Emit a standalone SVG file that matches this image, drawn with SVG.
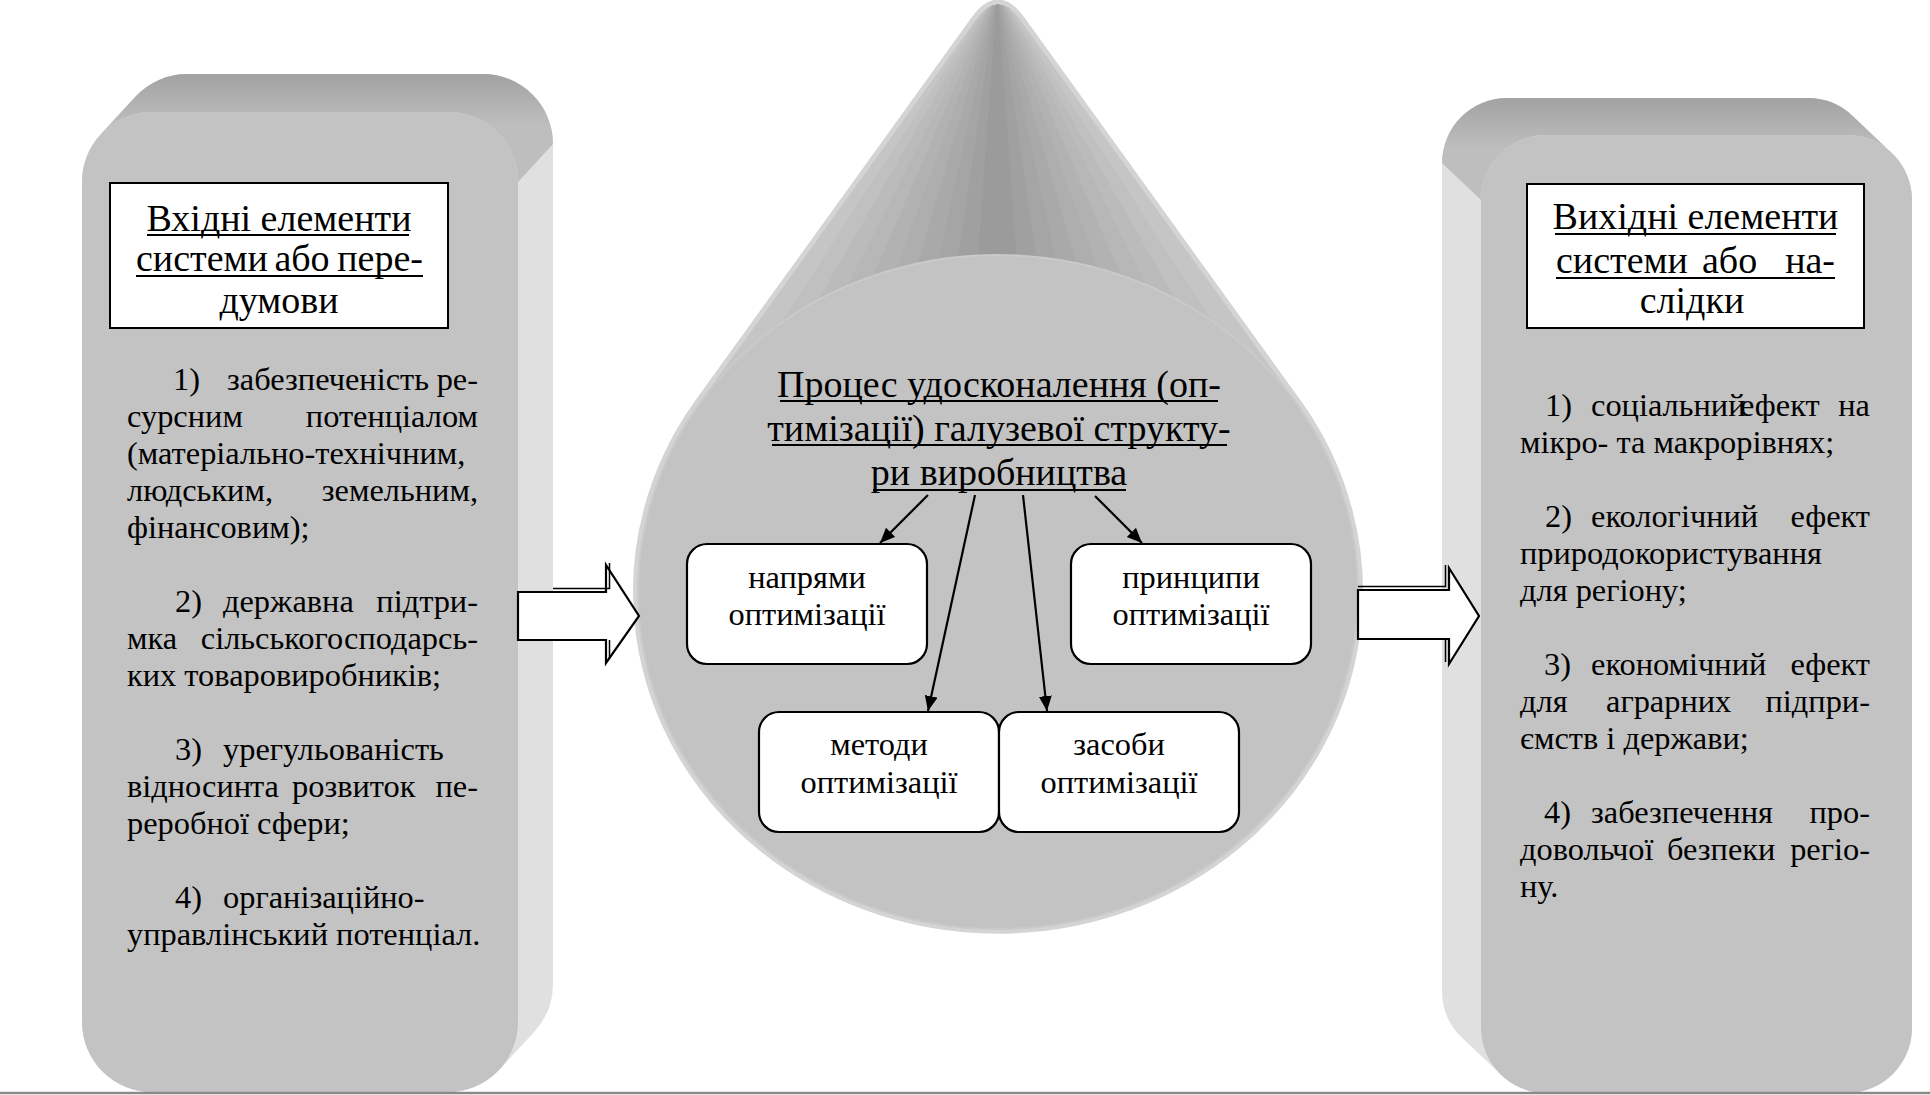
<svg xmlns="http://www.w3.org/2000/svg" width="1930" height="1095" viewBox="0 0 1930 1095">
<defs>
<linearGradient id="topL" gradientUnits="userSpaceOnUse" x1="0" y1="74" x2="0" y2="125">
<stop offset="0" stop-color="#a2a2a2"/><stop offset="1" stop-color="#bebebe"/>
</linearGradient>
<linearGradient id="topR" gradientUnits="userSpaceOnUse" x1="0" y1="98" x2="0" y2="148">
<stop offset="0" stop-color="#a2a2a2"/><stop offset="1" stop-color="#bebebe"/>
</linearGradient>
<clipPath id="tdClip"><path d="M 976 20 L 699 404 A 360 337 0 1 0 1297 404 L 1020 20 Q 998 -11 976 20 Z"/></clipPath>
<marker id="ah" markerUnits="userSpaceOnUse" markerWidth="16" markerHeight="14" refX="15" refY="6.5" orient="auto">
<path d="M0,0 L15,6.5 L0,13 Z" fill="#000"/>
</marker>
</defs>
<rect width="1930" height="1095" fill="#fff"/>

<g id="input-node">
<path fill="#e0e0e0" d="M 82 1022 L 82 182 A 70 70 0 0 1 100.5 134.6 L 135.5 96.6 A 70 70 0 0 1 187 74 L 483 74 A 70 70 0 0 1 553 144 L 553 984 A 70 70 0 0 1 534.5 1031.4 L 499.5 1069.4 A 70 70 0 0 1 448 1092 L 152 1092 A 70 70 0 0 1 82 1022 Z"/>
<path fill="url(#topL)" d="M 100.5 134.6 L 135.5 96.6 A 70 70 0 0 1 187 74 L 483 74 A 70 70 0 0 1 553 144 L 518 182 A 70 70 0 0 0 448 112 L 152 112 A 70 70 0 0 0 100.5 134.6 Z"/>
<rect fill="#c3c3c3" x="82" y="112" width="436" height="980" rx="70" ry="70"/>
<rect fill="#fff" stroke="#000" stroke-width="2" x="110" y="183" width="338" height="145"/>
<text style="font-family:'Liberation Serif',serif;font-size:38px" text-anchor="middle" x="279" y="231">Вхідні елементи</text>
<line stroke="#000" stroke-width="2" x1="147" y1="235" x2="409" y2="235"/>
<text style="font-family:'Liberation Serif',serif;font-size:38px" x="136" y="271">системи</text>
<text style="font-family:'Liberation Serif',serif;font-size:38px" text-anchor="middle" x="302" y="271">або</text>
<text style="font-family:'Liberation Serif',serif;font-size:38px" text-anchor="end" x="423" y="271">пере-</text>
<line stroke="#000" stroke-width="2" x1="136" y1="276" x2="423" y2="276"/>
<text style="font-family:'Liberation Serif',serif;font-size:38px" text-anchor="middle" x="279" y="313">думови</text>

<text style="font-family:'Liberation Serif',serif;font-size:32.4px" x="173" y="390">1)</text>
<text style="font-family:'Liberation Serif',serif;font-size:32.4px" x="227" y="390">забезпеченість</text>
<text style="font-family:'Liberation Serif',serif;font-size:32.4px" text-anchor="end" x="478" y="390">ре-</text>
<text style="font-family:'Liberation Serif',serif;font-size:32.4px" x="127" y="427">сурсним</text>
<text style="font-family:'Liberation Serif',serif;font-size:32.4px" text-anchor="end" x="478" y="427">потенціалом</text>
<text style="font-family:'Liberation Serif',serif;font-size:32.4px" x="127" y="464">(матеріально-технічним,</text>
<text style="font-family:'Liberation Serif',serif;font-size:32.4px" x="127" y="501">людським,</text>
<text style="font-family:'Liberation Serif',serif;font-size:32.4px" text-anchor="end" x="478" y="501">земельним,</text>
<text style="font-family:'Liberation Serif',serif;font-size:32.4px" x="127" y="538">фінансовим);</text>

<text style="font-family:'Liberation Serif',serif;font-size:32.4px" x="175" y="612">2)</text>
<text style="font-family:'Liberation Serif',serif;font-size:32.4px" x="223" y="612">державна</text>
<text style="font-family:'Liberation Serif',serif;font-size:32.4px" text-anchor="end" x="478" y="612">підтри-</text>
<text style="font-family:'Liberation Serif',serif;font-size:32.4px" x="127" y="649">мка</text>
<text style="font-family:'Liberation Serif',serif;font-size:32.4px" text-anchor="end" x="478" y="649">сільськогосподарсь-</text>
<text style="font-family:'Liberation Serif',serif;font-size:32.4px" x="127" y="686">ких товаровиробників;</text>

<text style="font-family:'Liberation Serif',serif;font-size:32.4px" x="175" y="760">3)</text>
<text style="font-family:'Liberation Serif',serif;font-size:32.4px" x="223" y="760">урегульованість</text>
<text style="font-family:'Liberation Serif',serif;font-size:32.4px" x="127" y="797">відносин</text>
<text style="font-family:'Liberation Serif',serif;font-size:32.4px" x="250" y="797">та</text>
<text style="font-family:'Liberation Serif',serif;font-size:32.4px" x="292" y="797">розвиток</text>
<text style="font-family:'Liberation Serif',serif;font-size:32.4px" text-anchor="end" x="478" y="797">пе-</text>
<text style="font-family:'Liberation Serif',serif;font-size:32.4px" x="127" y="834">реробної сфери;</text>

<text style="font-family:'Liberation Serif',serif;font-size:32.4px" x="175" y="908">4)</text>
<text style="font-family:'Liberation Serif',serif;font-size:32.4px" x="223" y="908">організаційно-</text>
<text style="font-family:'Liberation Serif',serif;font-size:32.4px" x="127" y="945">управлінський потенціал.</text>
</g>

<g id="process-node">
<path d="M 976 20 L 699 404 A 360 337 0 1 0 1297 404 L 1020 20 Q 998 -11 976 20 Z" fill="#c7c7c7" stroke="#d4d4d4" stroke-width="10"/>
<g clip-path="url(#tdClip)" stroke-width="1.5">
<polygon points="998,-11 419.4,720 472,720" fill="#c7c7c7" stroke="#c7c7c7"/>
<polygon points="998,-11 472,720 524.6,720" fill="#c5c5c5" stroke="#c5c5c5"/>
<polygon points="998,-11 524.6,720 577.2,720" fill="#c0c0c0" stroke="#c0c0c0"/>
<polygon points="998,-11 577.2,720 629.8,720" fill="#bbbbbb" stroke="#bbbbbb"/>
<polygon points="998,-11 629.8,720 682.4,720" fill="#b7b7b7" stroke="#b7b7b7"/>
<polygon points="998,-11 682.4,720 735,720" fill="#b2b2b2" stroke="#b2b2b2"/>
<polygon points="998,-11 735,720 787.6,720" fill="#aeaeae" stroke="#aeaeae"/>
<polygon points="998,-11 787.6,720 840.2,720" fill="#a9a9a9" stroke="#a9a9a9"/>
<polygon points="998,-11 840.2,720 892.8,720" fill="#a5a5a5" stroke="#a5a5a5"/>
<polygon points="998,-11 892.8,720 945.4,720" fill="#a0a0a0" stroke="#a0a0a0"/>
<polygon points="998,-11 945.4,720 998,720" fill="#9b9b9b" stroke="#9b9b9b"/>
<polygon points="998,-11 998,720 1050.6,720" fill="#9b9b9b" stroke="#9b9b9b"/>
<polygon points="998,-11 1050.6,720 1103.2,720" fill="#a0a0a0" stroke="#a0a0a0"/>
<polygon points="998,-11 1103.2,720 1155.8,720" fill="#a5a5a5" stroke="#a5a5a5"/>
<polygon points="998,-11 1155.8,720 1208.4,720" fill="#a9a9a9" stroke="#a9a9a9"/>
<polygon points="998,-11 1208.4,720 1261,720" fill="#aeaeae" stroke="#aeaeae"/>
<polygon points="998,-11 1261,720 1313.6,720" fill="#b2b2b2" stroke="#b2b2b2"/>
<polygon points="998,-11 1313.6,720 1366.2,720" fill="#b7b7b7" stroke="#b7b7b7"/>
<polygon points="998,-11 1366.2,720 1418.8,720" fill="#bbbbbb" stroke="#bbbbbb"/>
<polygon points="998,-11 1418.8,720 1471.4,720" fill="#c0c0c0" stroke="#c0c0c0"/>
<polygon points="998,-11 1471.4,720 1524,720" fill="#c5c5c5" stroke="#c5c5c5"/>
<polygon points="998,-11 1524,720 1576.6,720" fill="#c7c7c7" stroke="#c7c7c7"/>
</g>
<ellipse cx="998" cy="592" rx="360" ry="337" fill="#c3c3c3" stroke="#cacaca" stroke-width="2"/>
<text style="font-family:'Liberation Serif',serif;font-size:38px" text-anchor="middle" x="999" y="397">Процес удосконалення (оп-</text>
<line stroke="#000" stroke-width="2" x1="780" y1="401" x2="1218" y2="401"/>
<text style="font-family:'Liberation Serif',serif;font-size:38px" text-anchor="middle" x="999" y="441">тимізації) галузевої структу-</text>
<line stroke="#000" stroke-width="2" x1="772" y1="445" x2="1227" y2="445"/>
<text style="font-family:'Liberation Serif',serif;font-size:38px" text-anchor="middle" x="999" y="485">ри виробництва</text>
<line stroke="#000" stroke-width="2" x1="873" y1="490" x2="1126" y2="490"/>
</g>

<g id="node-napriamy">
<rect fill="#fff" stroke="#000" stroke-width="2.2" x="687" y="544" width="240" height="120" rx="20" ry="20"/>
<text style="font-family:'Liberation Serif',serif;font-size:32.4px" text-anchor="middle" x="807" y="588">напрями</text>
<text style="font-family:'Liberation Serif',serif;font-size:32.4px" text-anchor="middle" x="807" y="625">оптимізації</text>
</g>
<g id="node-pryntsypy">
<rect fill="#fff" stroke="#000" stroke-width="2.2" x="1071" y="544" width="240" height="120" rx="20" ry="20"/>
<text style="font-family:'Liberation Serif',serif;font-size:32.4px" text-anchor="middle" x="1191" y="588">принципи</text>
<text style="font-family:'Liberation Serif',serif;font-size:32.4px" text-anchor="middle" x="1191" y="625">оптимізації</text>
</g>
<g id="node-metody">
<rect fill="#fff" stroke="#000" stroke-width="2.2" x="759" y="712" width="240" height="120" rx="20" ry="20"/>
<text style="font-family:'Liberation Serif',serif;font-size:32.4px" text-anchor="middle" x="879" y="755">методи</text>
<text style="font-family:'Liberation Serif',serif;font-size:32.4px" text-anchor="middle" x="879" y="793">оптимізації</text>
</g>
<g id="node-zasoby">
<rect fill="#fff" stroke="#000" stroke-width="2.2" x="999" y="712" width="240" height="120" rx="20" ry="20"/>
<text style="font-family:'Liberation Serif',serif;font-size:32.4px" text-anchor="middle" x="1119" y="755">засоби</text>
<text style="font-family:'Liberation Serif',serif;font-size:32.4px" text-anchor="middle" x="1119" y="793">оптимізації</text>
</g>

<g id="output-node">
<path fill="#e0e0e0" d="M 1912 1028 L 1912 200 A 65 65 0 0 0 1891.7 152.9 L 1852.7 115.9 A 65 65 0 0 0 1808 98 L 1507 98 A 65 65 0 0 0 1442 163 L 1442 991 A 65 65 0 0 0 1462.3 1038.1 L 1501.3 1075.1 A 65 65 0 0 0 1546 1093 L 1847 1093 A 65 65 0 0 0 1912 1028 Z"/>
<path fill="url(#topR)" d="M 1891.7 152.9 L 1852.7 115.9 A 65 65 0 0 0 1808 98 L 1507 98 A 65 65 0 0 0 1442 163 L 1481 200 A 65 65 0 0 1 1546 135 L 1847 135 A 65 65 0 0 1 1891.7 152.9 Z"/>
<rect fill="#c3c3c3" x="1481" y="135" width="431" height="958" rx="65" ry="65"/>
<rect fill="#fff" stroke="#000" stroke-width="2" x="1527" y="184" width="337" height="144"/>
<text style="font-family:'Liberation Serif',serif;font-size:38px" text-anchor="middle" x="1695.5" y="229">Вихідні елементи</text>
<line stroke="#000" stroke-width="2" x1="1555" y1="234" x2="1836" y2="234"/>
<text style="font-family:'Liberation Serif',serif;font-size:38px" x="1556" y="273">системи</text>
<text style="font-family:'Liberation Serif',serif;font-size:38px" x="1702" y="273">або</text>
<text style="font-family:'Liberation Serif',serif;font-size:38px" text-anchor="end" x="1835" y="273">на-</text>
<line stroke="#000" stroke-width="2" x1="1556" y1="278" x2="1835" y2="278"/>
<text style="font-family:'Liberation Serif',serif;font-size:38px" text-anchor="middle" x="1692" y="313">слідки</text>

<text style="font-family:'Liberation Serif',serif;font-size:32.4px" x="1545" y="416">1)</text>
<text style="font-family:'Liberation Serif',serif;font-size:32.4px" x="1591" y="416">соціальний</text>
<text style="font-family:'Liberation Serif',serif;font-size:32.4px" x="1740" y="416">ефект</text>
<text style="font-family:'Liberation Serif',serif;font-size:32.4px" text-anchor="end" x="1870" y="416">на</text>
<text style="font-family:'Liberation Serif',serif;font-size:32.4px" x="1520" y="453">мікро- та макрорівнях;</text>

<text style="font-family:'Liberation Serif',serif;font-size:32.4px" x="1545" y="527">2)</text>
<text style="font-family:'Liberation Serif',serif;font-size:32.4px" x="1591" y="527">екологічний</text>
<text style="font-family:'Liberation Serif',serif;font-size:32.4px" text-anchor="end" x="1870" y="527">ефект</text>
<text style="font-family:'Liberation Serif',serif;font-size:32.4px" x="1520" y="564">природокористування</text>
<text style="font-family:'Liberation Serif',serif;font-size:32.4px" x="1520" y="601">для регіону;</text>

<text style="font-family:'Liberation Serif',serif;font-size:32.4px" x="1544" y="675">3)</text>
<text style="font-family:'Liberation Serif',serif;font-size:32.4px" x="1591" y="675">економічний</text>
<text style="font-family:'Liberation Serif',serif;font-size:32.4px" text-anchor="end" x="1870" y="675">ефект</text>
<text style="font-family:'Liberation Serif',serif;font-size:32.4px" x="1520" y="712">для</text>
<text style="font-family:'Liberation Serif',serif;font-size:32.4px" x="1606" y="712">аграрних</text>
<text style="font-family:'Liberation Serif',serif;font-size:32.4px" text-anchor="end" x="1870" y="712">підпри-</text>
<text style="font-family:'Liberation Serif',serif;font-size:32.4px" x="1520" y="749">ємств і держави;</text>

<text style="font-family:'Liberation Serif',serif;font-size:32.4px" x="1544" y="823">4)</text>
<text style="font-family:'Liberation Serif',serif;font-size:32.4px" x="1591" y="823">забезпечення</text>
<text style="font-family:'Liberation Serif',serif;font-size:32.4px" text-anchor="end" x="1870" y="823">про-</text>
<text style="font-family:'Liberation Serif',serif;font-size:32.4px" x="1520" y="860">довольчої</text>
<text style="font-family:'Liberation Serif',serif;font-size:32.4px" x="1667" y="860">безпеки</text>
<text style="font-family:'Liberation Serif',serif;font-size:32.4px" text-anchor="end" x="1870" y="860">регіо-</text>
<text style="font-family:'Liberation Serif',serif;font-size:32.4px" x="1520" y="897">ну.</text>
</g>

<g id="connectors">
<path fill="#fff" stroke="#000" stroke-width="2.2" d="M 518 592 L 606 592 L 606 565 L 639 616 L 606 663 L 606 640 L 518 640 Z"/>
<path fill="none" stroke="#000" stroke-width="1.5" d="M 553 588.5 L 609.5 588.5 L 609.5 563 M 609.5 640 L 609.5 659"/>
<path fill="#fff" stroke="#000" stroke-width="2.2" d="M 1358 590 L 1449 590 L 1449 568 L 1479 616 L 1449 664 L 1449 639 L 1358 639 Z"/>
<path fill="none" stroke="#000" stroke-width="1.5" d="M 1358 586.5 L 1445.5 586.5 L 1445.5 565 M 1445.5 639 L 1445.5 662"/>
<line stroke="#000" stroke-width="2.2" marker-end="url(#ah)" x1="928" y1="495" x2="880" y2="543"/>
<line stroke="#000" stroke-width="2.2" marker-end="url(#ah)" x1="975" y1="495" x2="928" y2="711"/>
<line stroke="#000" stroke-width="2.2" marker-end="url(#ah)" x1="1023" y1="495" x2="1047" y2="711"/>
<line stroke="#000" stroke-width="2.2" marker-end="url(#ah)" x1="1095" y1="496" x2="1142" y2="543"/>
</g>

<line x1="0" y1="1093" x2="1930" y2="1093" stroke="#8a8a8a" stroke-width="2.5"/>
</svg>
